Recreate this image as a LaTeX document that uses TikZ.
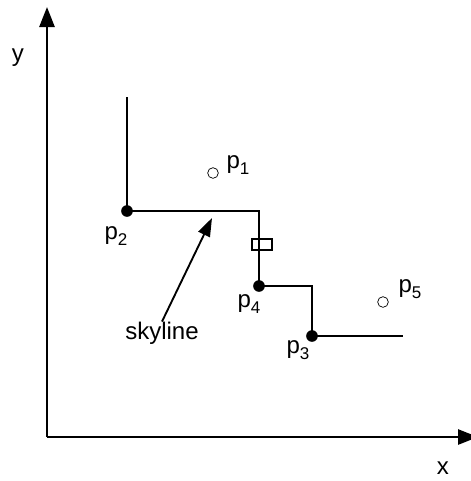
\documentclass[tikz,border=0pt]{standalone}
\usepackage{fontspec}
\setmainfont{Liberation Sans}
\usepackage{tikz}
\usetikzlibrary{arrows.meta,calc}

\newcommand{\ptlbl}[1]{p\raisebox{-0.5ex}{\fontsize{14.5}{14.5}\selectfont #1}}

\begin{document}
\begin{tikzpicture}[
x=0.3mm,
y=-0.3mm,
every node/.style={font=\fontsize{20.5}{24}\selectfont,inner sep=0pt},
axis/.style={line width=2.3pt,-{Triangle[length=6mm,width=4.5mm]}},
sky/.style={line width=1pt},
hit/.style={circle,fill=black,minimum size=3.5mm},
free/.style={circle,draw,line width=0.6pt,minimum size=3.2mm},
arr/.style={line width=1.6pt,-{Triangle[length=5.5mm,width=3.8mm]}},
mark box/.style={rectangle,draw,line width=0.9pt,minimum width=6mm,minimum height=3.3mm}
]
\useasboundingbox (0,0) rectangle (471,481);
% axes
\coordinate (O) at (47,437);
\coordinate (ytip) at (47,7);
\coordinate (xtip) at (478,437);
\draw[axis] (O) -- (ytip);
\draw[axis] (O) -- (xtip);
\node (ylab) at (18,58) {y};
\node (xlab) at (443,468) {x};

% points
\node[hit] (p2) at (127,211) {};
\node[hit] (p4) at (259,286) {};
\node[hit] (p3) at (312,336) {};
\node[free] (p1) at (213,173) {};
\node[free] (p5) at (383,302) {};

\node (l1) at (238,165) {\ptlbl{1}};
\node (l2) at (116,236) {\ptlbl{2}};
\node (l4) at (249,304) {\ptlbl{4}};
\node (l3) at (298,350) {\ptlbl{3}};
\node (l5) at (410,289) {\ptlbl{5}};

% skyline
\coordinate (top) at (127,97);
\coordinate (c1) at (259,211);
\coordinate (c2) at (312,286);
\coordinate (tail) at (403,336);
\draw[sky] (top) -- (p2.center) -- (c1) -- (p4.center) -- (c2) -- (p3.center) -- (tail);
\node[mark box] (cut) at (262,244.5) {};

\node (skylbl) at (162,333) {skyline};
\coordinate (aim) at (212,218);
\draw[arr] (skylbl.north) -- (aim);
\end{tikzpicture}
\end{document}
